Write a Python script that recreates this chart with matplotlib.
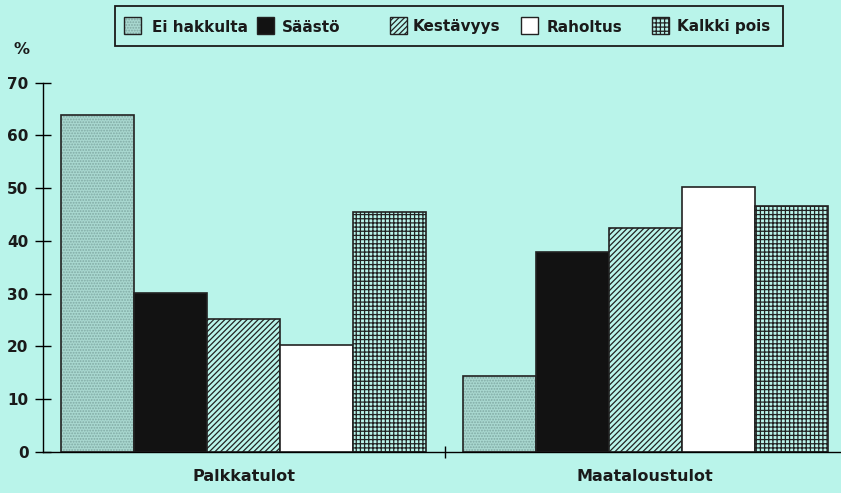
import matplotlib
matplotlib.use("Agg")
import matplotlib.pyplot as plt
import numpy as np
from matplotlib.patches import Rectangle

# dati
ryhmat = ["Palkkatulot", "Maataloustulot"]
sarjat = ["Ei hakkulta", "Säästö", "Kestävyys", "Raholtus", "Kalkki pois"]
ei_hakkulta = [63.8, 14.5]
saasto = [30.2, 38.0]
kestavyys = [25.2, 42.5]
raholtus = [20.3, 50.3]
kalkki_pois = [45.4, 46.7]
y_ticks = [0, 10, 20, 30, 40, 50, 60, 70]

arvot = [ei_hakkulta, saasto, kestavyys, raholtus, kalkki_pois]
sfondo = "#b9f4ea"
tyylit = [
    dict(facecolor="#a9d8d0", hatch="......", edgecolor="#80aaa4"),
    dict(facecolor="#121212", hatch="", edgecolor="#121212"),
    dict(facecolor=sfondo, hatch="//////", edgecolor="#222222"),
    dict(facecolor="white", hatch="", edgecolor="#222222"),
    dict(facecolor=sfondo, hatch="++++", edgecolor="#222222"),
]

plt.rcParams["font.family"] = ["DejaVu Sans"]
plt.rcParams["font.weight"] = "bold"
plt.rcParams["hatch.linewidth"] = 0.9

W, H = 841, 493
fig = plt.figure(figsize=(W / 100, H / 100), dpi=100, facecolor=sfondo)
ax = fig.add_axes([43 / W, 1 - 452 / H, 803 / W, (452 - 82.7) / H])
ax.set_facecolor(sfondo)

x = np.arange(len(ryhmat))
w = 0.182
for j, (nome, vals, st) in enumerate(zip(sarjat, arvot, tyylit)):
    pos = x + (j - 2) * w
    ax.bar(pos, vals, w, color=st["facecolor"], hatch=st["hatch"],
           edgecolor=st["edgecolor"], linewidth=0)
    ax.bar(pos, vals, w, fill=False, edgecolor="#222222", linewidth=1.2)

ax.set_xlim(-0.5, 1.5)
ax.set_ylim(0, 70)
ax.set_yticks(y_ticks)
ax.set_yticklabels([str(t) for t in y_ticks], fontsize=11, fontweight="bold",
                   color="#1a1a1a")
ax.set_xticks([0.5])
ax.set_xticklabels([""])
ax.tick_params(axis="y", direction="inout", length=11, width=1, pad=5)
ax.tick_params(axis="x", direction="inout", length=9, width=1)
for s in ["top", "right"]:
    ax.spines[s].set_visible(False)
ax.spines["left"].set_linewidth(1)
ax.spines["bottom"].set_linewidth(1)

for xi, nome in zip(x, ryhmat):
    ax.text(xi, -4.6, nome, ha="center", va="center", fontsize=11.5,
            fontweight="bold", color="#1a1a1a")

fig.text(22 / W, 1 - 50 / H, "%", ha="center", va="center",
         fontsize=11.5, fontweight="bold", color="#1a1a1a")


# legenda disegnata a mano (spaziature irregolari nell'originale)
def px(xp, yp):
    return xp / W, 1 - yp / H


fig.add_artist(Rectangle(px(115, 46), 668 / W, 40 / H, transform=fig.transFigure,
                         facecolor=sfondo, edgecolor="#1a1a1a", linewidth=1.3))
quadrati_x = [124, 257, 390, 521, 652]
testi_x = [152, 282, 413, 547, 677]
for nome, st, qx, tx in zip(sarjat, tyylit, quadrati_x, testi_x):
    fig.add_artist(Rectangle(px(qx, 34), 17 / W, 17 / H, transform=fig.transFigure,
                             facecolor=st["facecolor"], hatch=st["hatch"],
                             edgecolor=st["edgecolor"], linewidth=0))
    fig.add_artist(Rectangle(px(qx, 34), 17 / W, 17 / H, transform=fig.transFigure,
                             fill=False, edgecolor="#222222", linewidth=1))
    fig.text(*px(tx, 31.5), nome, ha="left", va="baseline", fontsize=11,
             fontweight="bold", color="#1a1a1a")

fig.savefig("out.png", dpi=100, facecolor=sfondo)
